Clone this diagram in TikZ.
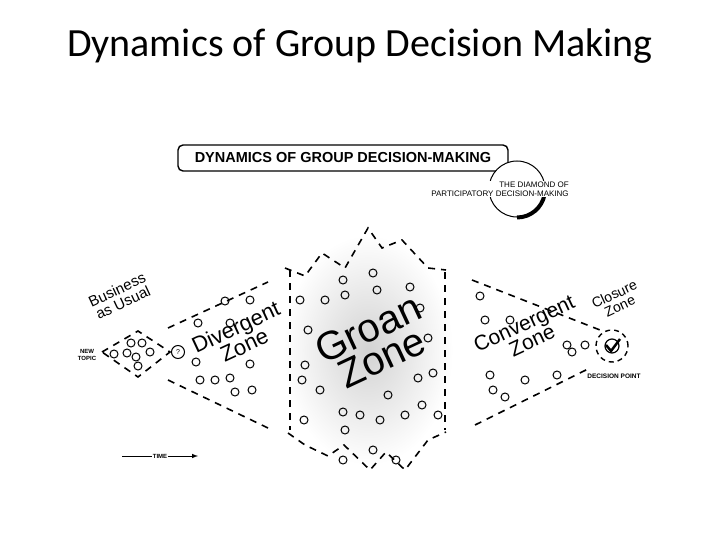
\documentclass[tikz,border=0pt]{standalone}
\usepackage{fontspec}
\setmainfont{Carlito}
\setsansfont{Liberation Sans}
\usetikzlibrary{shadings}
\begin{document}
\begin{tikzpicture}[x=1pt,y=-1pt,
  dln/.style={draw=black,line width=1.6pt,dash pattern=on 7pt off 6pt},
  dot/.style={draw=black,line width=1pt,circle,inner sep=0pt,minimum size=8pt},
  lab/.style={font=\sffamily,text=black,inner sep=1pt}]
\useasboundingbox (0,0) rectangle (720,540);
\node (title) at (360,46) {\fontsize{40}{46}\selectfont Dynamics of Group Decision Making};
% header
\node[draw,line width=1.4pt,rounded corners=5pt,minimum width=330pt,minimum height=26pt] (hdr) at (343,158) {};
\node[lab,font=\sffamily\bfseries\fontsize{14.5}{16}\selectfont] (hdrt) at (343,158) {DYNAMICS OF GROUP DECISION-MAKING};
\node[circle,draw,line width=1pt,minimum size=56pt,fill=white] (logo) at (517,189) {};
\draw[line width=4pt] (logo.south) arc (-90:-10:28pt);
\node[lab,font=\sffamily\fontsize{8}{9.5}\selectfont,align=right,fill=white,inner sep=0.5pt] (logot) at (500,189) {THE DIAMOND OF\\PARTICIPATORY DECISION-MAKING};
% groan zone shading
\shade[inner color=gray!35,outer color=white] (368,350) ellipse (85pt and 115pt);
% business diamond
\coordinate (bl) at (102,352); \coordinate (bt) at (138,331); \coordinate (br) at (170,352); \coordinate (bb) at (138,377);
\draw[dln] (bl)--(bt)--(br)--(bb)--cycle;
% divergent
\coordinate (d1) at (168,328); \coordinate (d2) at (268,282);
\coordinate (d3) at (168,380); \coordinate (d4) at (268,428);
\draw[dln] (d1)--(d2); \draw[dln] (d3)--(d4);
% groan zigzag
\draw[dln] (285,268)--(305,276)--(322,253)--(345,268)--(368,228)--(382,248)--(402,240)--(428,268)--(446,270);
\draw[dln] (288,433)--(305,445)--(328,456)--(344,445)--(370,470)--(386,452)--(405,470)--(428,440)--(446,432);
\draw[dln] (290,270)--(290,430);
\draw[dln] (445,272)--(445,430);
% convergent
\draw[dln] (472,280)--(600,330);
\draw[dln] (475,425)--(590,368);
% closure
\node[dot,minimum size=32pt,dash pattern=on 5pt off 4pt,line width=1.4pt] (cl) at (612,346) {};
\node[dot,minimum size=14pt,line width=1.2pt] (ck) at (612,346) {};
\draw[line width=2.5pt] (606,345)--(611,351)--(620,339);
% dots
\foreach \p [count=\i] in {(114,354),(127,353),(131,343),(136,357),(142,343),(150,352),(138,366),
 (198,323),(225,301),(230,323),(250,300),(196,362),(200,380),(215,380),(230,378),(250,364),(235,392),(252,390),
 (300,300),(325,300),(308,330),(305,365),(302,380),(320,390),(304,420),(345,430),(345,295),(343,280),
 (373,273),(377,290),(388,395),(343,412),(360,415),(380,420),(373,450),(405,415),(410,287),(420,308),(428,338),(418,378),(433,373),(422,405),(438,415),(396,460),(343,460),
 (480,296),(485,320),(490,375),(493,390),(510,320),(505,397),(525,380),(567,345),(572,352),(557,375),(585,345)}
 \node[dot] (c\i) at \p {};
\node[dot,minimum size=13pt,font=\sffamily\scriptsize] (q) at (178,352) {?};
% labels
\node[lab,font=\sffamily\fontsize{6}{6.5}\selectfont\bfseries,align=center] (nt) at (87,355) {NEW\\TOPIC};
\node[lab,font=\sffamily\fontsize{15}{14}\selectfont,rotate=25,align=center] (bu) at (120,296) {Business\\as Usual};
\node[lab,font=\sffamily\fontsize{22}{20}\selectfont,rotate=25,align=center] (dz) at (240,336) {Divergent\\Zone};
\node[lab,font=\sffamily\fontsize{40}{32}\selectfont,rotate=25,align=center] (gz) at (375,343) {Groan\\Zone};
\node[lab,font=\sffamily\fontsize{21}{19}\selectfont,rotate=25,align=center] (cz) at (528,332) {Convergent\\Zone};
\node[lab,font=\sffamily\fontsize{14}{13}\selectfont,rotate=25,align=center] (czz) at (617,300) {Closure\\Zone};
\node[lab,font=\sffamily\bfseries\fontsize{6.5}{7}\selectfont] (dp) at (614,376) {DECISION POINT};
\node[lab,font=\sffamily\bfseries\fontsize{6}{7}\selectfont] (tm) at (160,456) {TIME};
\coordinate (t1) at (122,456); \coordinate (t2) at (198,456);
\draw[line width=1pt] (t1)--(tm.west);
\draw[line width=1pt,-latex] (tm.east)--(t2);
\end{tikzpicture}
\end{document}
